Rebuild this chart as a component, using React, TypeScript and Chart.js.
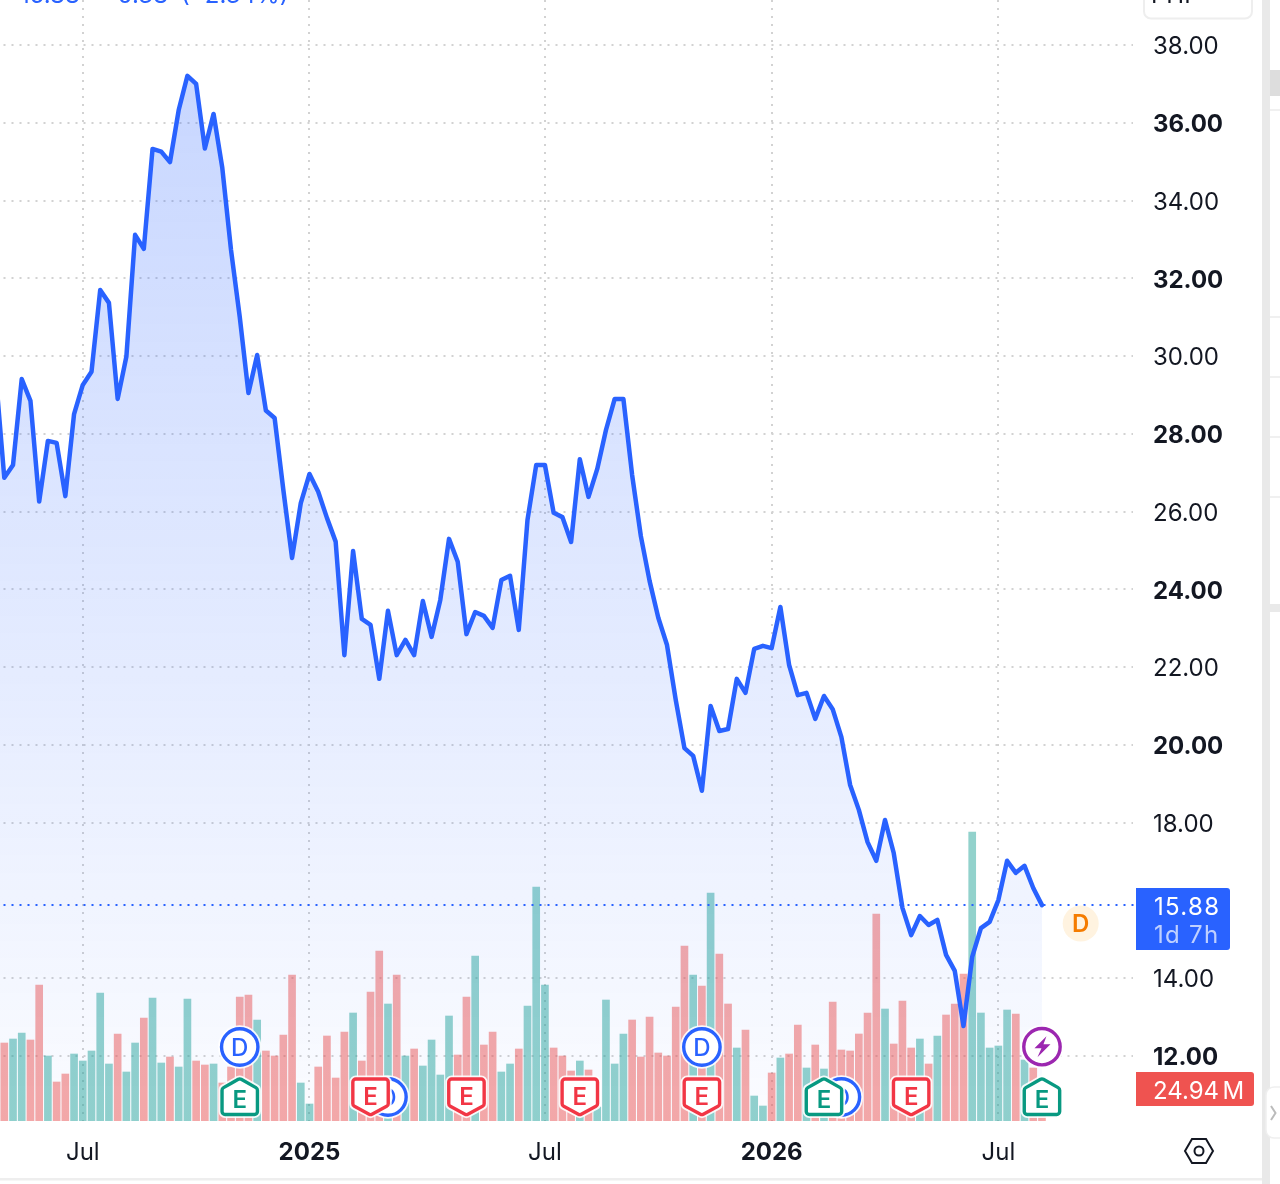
import React, { useEffect, useRef } from "react";
import { Chart, registerables } from "chart.js";

Chart.register(...registerables);

// Weekly closes; the first value lies just left of the visible window (index -1).
const prices = [
  29.57, 26.87, 27.2, 29.41, 28.85, 26.26, 27.82, 27.77, 26.4, 28.51, 29.26, 29.6, 31.7, 31.37, 28.9, 29.99,
  33.12, 32.76, 35.33, 35.26, 34.99, 36.33, 37.21, 37.0, 35.34, 36.23, 34.84, 32.73, 31.01, 29.05, 30.03, 28.6,
  28.41, 26.56, 24.81, 26.22, 26.97, 26.51, 25.84, 25.23, 22.31, 24.99, 23.24, 23.09, 21.7, 23.45, 22.31, 22.7,
  22.31, 23.7, 22.78, 23.73, 25.3, 24.71, 22.85, 23.42, 23.32, 23.01, 24.24, 24.35, 22.96, 25.79, 27.2, 27.2,
  25.97, 25.86, 25.22, 27.35, 26.38, 27.1, 28.1, 28.9, 28.9, 26.94, 25.37, 24.22, 23.27, 22.57, 21.16, 19.92,
  19.72, 18.82, 21.0, 20.36, 20.41, 21.7, 21.34, 22.47, 22.55, 22.49, 23.55, 22.06, 21.28, 21.34, 20.67, 21.26,
  20.92, 20.2, 18.97, 18.33, 17.5, 17.02, 18.07, 17.22, 15.81, 15.11, 15.6, 15.37, 15.5, 14.6, 14.19, 12.77,
  14.55, 15.29, 15.45, 16.01, 17.02, 16.71, 16.89, 16.32, 15.88,
];

// Volumes in millions, from index 0.
const volumes = [
  78, 82, 88, 81, 136, 65, 39, 47, 67, 60, 70, 128, 57, 87, 49, 78, 103, 123, 58, 64, 54, 122, 60, 56, 57, 38, 54,
  124, 126, 101, 70, 65, 86, 146, 38, 17, 54, 85, 43, 89, 108, 60, 129, 170, 117, 146, 65, 72, 55, 81, 46, 105, 66,
  124, 165, 76, 89, 49, 57, 72, 115, 234, 136, 73, 65, 50, 60, 51, 14, 121, 57, 87, 101, 64, 104, 68, 65, 114, 175,
  146, 135, 228, 167, 117, 73, 91, 25, 15, 48, 63, 67, 96, 53, 76, 52, 119, 71, 70, 87, 108, 207, 112, 77, 120, 73,
  82, 57, 85, 106, 117, 147, 289, 108, 73, 75, 111, 107, 61, 53, 25,
];

// 1 = green (up week), 0 = red (down week)
const volumeUp = [
  0, 1, 1, 0, 0, 1, 0, 0, 1, 1, 1, 1, 1, 0, 1, 1, 0, 1, 1, 0, 1, 1, 0, 0, 1, 0, 0, 0, 0, 1, 0, 0, 0, 0, 1, 1, 0, 0, 0,
  0, 1, 0, 0, 0, 1, 0, 1, 0, 1, 1, 1, 1, 0, 0, 1, 0, 0, 1, 1, 0, 1, 1, 1, 0, 0, 0, 1, 0, 1, 1, 1, 1, 0, 0, 0, 0, 0, 0,
  0, 1, 0, 1, 0, 0, 1, 0, 1, 1, 0, 1, 0, 0, 1, 0, 1, 0, 0, 0, 0, 0, 0, 1, 0, 0, 0, 1, 0, 1, 0, 0, 0, 1, 1, 1, 1, 1, 0,
  1, 0, 0,
];

const priceTicks = [12, 14, 16, 18, 20, 22, 24, 26, 28, 30, 32, 34, 36, 38];
const boldPriceTicks = [12, 20, 24, 28, 32, 36];
const hiddenPriceTicks = [16];
const timeTickIndex = [9, 35, 62, 88, 114];
const timeTickLabels = ["Jul", "2025", "Jul", "2026", "Jul"];
const boldTimeLabels = ["2025", "2026"];

const lastPrice = 15.88;
const countdown = "1d 7h";
const lastVolumeValue = "24.94";
const lastVolumeUnit = "M";
const earningsBeat = [27, 94, 119]; // green E markers
const earningsMiss = [42, 53, 66, 80, 104]; // red E markers
const dividendStacked = [27, 80]; // D above an E
const dividendLow = [44, 96]; // D partly behind an E
const splitIndex = 119; // lightning marker
const headerPrice = "15.88";
const headerChange = "\u22120.38";
const headerPercent = "(\u22122.34%)";

const BLUE = "#2962FF";
const RED = "#F23645";
const GREEN = "#089981";
const INK = "#131722";
const FONT = "Inter, sans-serif";

function roundPath(c: CanvasRenderingContext2D, pts: number[][], r: number) {
  c.beginPath();
  const n = pts.length;
  const a = pts[n - 1], b = pts[0];
  c.moveTo((a[0] + b[0]) / 2, (a[1] + b[1]) / 2);
  for (let i = 0; i < n; i++) {
    const p = pts[i], q = pts[(i + 1) % n];
    c.arcTo(p[0], p[1], (p[0] + q[0]) / 2, (p[1] + q[1]) / 2, r);
  }
  c.closePath();
}

function ring(c: CanvasRenderingContext2D, x: number, y: number, color: string) {
  c.beginPath();
  c.arc(x, y, 18.2, 0, Math.PI * 2);
  c.fillStyle = "#fff";
  c.fill();
  c.lineWidth = 7;
  c.strokeStyle = "rgba(255,255,255,0.9)";
  c.stroke();
  c.lineWidth = 3.4;
  c.strokeStyle = color;
  c.stroke();
}

function letter(c: CanvasRenderingContext2D, t: string, x: number, base: number, color: string, font: string) {
  c.fillStyle = color;
  c.font = font;
  c.textAlign = "center";
  c.textBaseline = "alphabetic";
  c.fillText(t, x, base);
}

function earnings(c: CanvasRenderingContext2D, x: number, up: boolean) {
  const color = up ? GREEN : RED;
  const pts = up
    ? [[x, 1078.5], [x + 17.7, 1088.5], [x + 17.7, 1114.5], [x - 17.7, 1114.5], [x - 17.7, 1088.5]]
    : [[x - 17.7, 1079], [x + 17.7, 1079], [x + 17.7, 1105.5], [x, 1115], [x - 17.7, 1105.5]];
  roundPath(c, pts, 3);
  c.fillStyle = "#fff";
  c.fill();
  c.lineJoin = "round";
  c.lineWidth = 7;
  c.strokeStyle = "rgba(255,255,255,0.9)";
  c.stroke();
  c.lineWidth = 3.4;
  c.strokeStyle = color;
  c.stroke();
  letter(c, "E", x, up ? 1108 : 1105, color, `600 24px ${FONT}`);
}

function dividend(c: CanvasRenderingContext2D, x: number, y: number) {
  ring(c, x, y, BLUE);
  letter(c, "D", x, y + 8.5, BLUE, `500 24px ${FONT}`);
}

const overlays = {
  id: "overlays",
  afterDatasetsDraw(chart: any) {
    const c: any = chart.ctx;
    const xs = chart.scales.x;
    const ys = chart.scales.y;
    c.save();

    // last price line
    const py = Math.round(ys.getPixelForValue(lastPrice));
    c.setLineDash([2, 6]);
    c.lineDashOffset = -3.5;
    c.lineWidth = 2;
    c.strokeStyle = BLUE;
    c.beginPath();
    c.moveTo(0, py);
    c.lineTo(1136, py);
    c.stroke();
    c.setLineDash([]);
    c.lineDashOffset = 0;

    // event markers
    dividendLow.forEach((i) => dividend(c, xs.getPixelForValue(i), 1097));
    dividendStacked.forEach((i) => dividend(c, xs.getPixelForValue(i), 1047));
    earningsBeat.forEach((i) => earnings(c, xs.getPixelForValue(i), true));
    earningsMiss.forEach((i) => earnings(c, xs.getPixelForValue(i), false));

    // lightning marker
    const sx = xs.getPixelForValue(splitIndex);
    const sy = 1046.7;
    ring(c, sx, sy, "#9C27B0");
    c.fillStyle = "#9C27B0";
    c.beginPath();
    c.moveTo(sx + 4.5, sy - 10.5);
    c.lineTo(sx - 7.5, sy + 1.5);
    c.lineTo(sx - 0.5, sy + 1.5);
    c.lineTo(sx - 4.5, sy + 10.5);
    c.lineTo(sx + 8.5, sy - 2.5);
    c.lineTo(sx + 1.5, sy - 2.5);
    c.closePath();
    c.fill();

    // upcoming dividend bubble
    c.beginPath();
    c.arc(1080.7, 923.5, 18, 0, Math.PI * 2);
    c.fillStyle = "#FFF3E0";
    c.fill();
    letter(c, "D", 1080.7, 932, "#F57C00", `600 24px ${FONT}`);

    // price tag
    c.fillStyle = BLUE;
    c.beginPath();
    c.roundRect(1136, 888, 94, 62, [0, 3, 3, 0]);
    c.fill();
    c.textAlign = "left";
    c.textBaseline = "middle";
    c.font = `400 24px ${FONT}`;
    c.letterSpacing = "1.3px";
    c.fillStyle = "#fff";
    c.fillText(lastPrice.toFixed(2), 1154, 907.5);
    c.fillStyle = "rgba(255,255,255,0.7)";
    c.fillText(countdown, 1154, 936);
    c.letterSpacing = "0px";

    // volume tag
    c.fillStyle = "#EF5350";
    c.beginPath();
    c.roundRect(1136, 1072, 118, 34, [0, 3, 3, 0]);
    c.fill();
    c.fillStyle = "#fff";
    c.fillText(lastVolumeValue, 1153, 1092);
    c.fillText(lastVolumeUnit, 1222.5, 1092);

    // settings hexagon
    const hx = 1199, hy = 1151;
    c.strokeStyle = INK;
    c.lineWidth = 2;
    c.lineJoin = "miter";
    c.beginPath();
    c.moveTo(hx - 14, hy);
    c.lineTo(hx - 7, hy - 12);
    c.lineTo(hx + 7, hy - 12);
    c.lineTo(hx + 14, hy);
    c.lineTo(hx + 7, hy + 12);
    c.lineTo(hx - 7, hy + 12);
    c.closePath();
    c.stroke();
    c.beginPath();
    c.arc(hx, hy, 4.5, 0, Math.PI * 2);
    c.stroke();

    // page chrome around the chart
    c.fillStyle = "#EEEEEE";
    c.fillRect(0, 1178, 1262, 2.5);
    c.fillStyle = "#E9E9E9";
    c.fillRect(1262, 0, 8, 1184);
    c.fillStyle = "#DDDDDD";
    c.fillRect(1270, 70, 10, 26);
    c.fillStyle = "#F0F0F0";
    [110, 317, 377, 437, 497].forEach((y) => c.fillRect(1270, y - 1, 10, 2));
    c.fillStyle = "#E9E9E9";
    c.fillRect(1270, 604, 10, 8);
    c.fillStyle = "#fff";
    c.strokeStyle = "#EFEFEF";
    c.lineWidth = 1.5;
    c.beginPath();
    c.roundRect(1266, 1087, 24, 51, 8);
    c.fill();
    c.stroke();
    c.strokeStyle = "#BBBBBB";
    c.lineWidth = 2;
    c.beginPath();
    c.moveTo(1271, 1106);
    c.lineTo(1275.5, 1113);
    c.lineTo(1271, 1120);
    c.stroke();

    // interval button, cut by the top of the crop
    c.fillStyle = "#fff";
    c.strokeStyle = "#EEEEEE";
    c.lineWidth = 2;
    c.beginPath();
    c.roundRect(1144, -20, 108, 38.5, 7);
    c.fill();
    c.stroke();
    c.fillStyle = INK;
    c.font = `400 24px ${FONT}`;
    c.textBaseline = "alphabetic";
    c.textAlign = "left";
    c.fillText("PHP", 1151, 3);

    // price header, cut by the top of the crop
    c.fillStyle = BLUE;
    c.fillText(headerPrice, 20, 3);
    c.textAlign = "right";
    c.fillText(headerChange, 168, 3);
    c.textAlign = "left";
    c.fillText(headerPercent, 181, 3);

    c.restore();
  },
};

export default function App() {
  const ref = useRef<HTMLCanvasElement | null>(null);

  useEffect(() => {
    if (!ref.current) return;
    const chart = new Chart(ref.current, {
      type: "line",
      data: {
        datasets: [
          {
            type: "line",
            order: 1,
            xAxisID: "x",
            yAxisID: "y",
            data: prices.map((v, i) => ({ x: i - 1, y: v })),
            borderColor: BLUE,
            borderWidth: 4.5,
            borderJoinStyle: "round",
            borderCapStyle: "round",
            pointRadius: 0,
            tension: 0,
            fill: "start",
            backgroundColor: (ctx: any) => {
              const g = ctx.chart.ctx.createLinearGradient(0, 76, 0, 1121);
              g.addColorStop(0, "rgba(41,98,255,0.26)");
              g.addColorStop(1, "rgba(41,98,255,0.02)");
              return g;
            },
          },
          {
            type: "bar",
            order: 2,
            xAxisID: "x",
            yAxisID: "vol",
            data: volumes.map((v, i) => ({ x: i, y: v })),
            barThickness: 7,
            borderWidth: 0,
            backgroundColor: volumeUp.map((u) => (u ? "rgba(38,166,154,0.5)" : "rgba(239,83,80,0.5)")),
          },
        ],
      } as any,
      options: {
        animation: false,
        responsive: false,
        devicePixelRatio: 1,
        layout: { padding: 0 },
        plugins: { legend: { display: false }, tooltip: { enabled: false } },
        scales: {
          x: {
            type: "linear",
            position: "bottom",
            offset: false,
            min: -0.493,
            max: 129.44,
            afterBuildTicks: (axis: any) => {
              axis.ticks = timeTickIndex.map((value) => ({ value }));
            },
            afterFit: (axis: any) => {
              axis.height = 63;
              axis.paddingLeft = 0;
              axis.paddingRight = 0;
            },
            grid: { color: "#D2D2D2", lineWidth: 2, drawTicks: false, offset: false },
            border: { display: false, dash: [2, 6], dashOffset: 0 },
            ticks: {
              autoSkip: false,
              maxRotation: 0,
              padding: 17.5,
              color: INK,
              callback: (value: any) => timeTickLabels[timeTickIndex.indexOf(Number(value))],
              font: (ctx: any) => {
                const label = timeTickLabels[timeTickIndex.indexOf(ctx.tick?.value)];
                return boldTimeLabels.includes(label)
                  ? { family: FONT, size: 24, weight: "700" }
                  : { family: FONT, size: 24, weight: "400" };
              },
            },
          },
          y: {
            type: "linear",
            position: "right",
            min: 10.328,
            max: 39.16,
            afterBuildTicks: (axis: any) => {
              axis.ticks = priceTicks.map((value) => ({ value }));
            },
            afterFit: (axis: any) => {
              axis.width = 147;
              axis.paddingTop = 0;
              axis.paddingBottom = 0;
            },
            grid: { color: "#D2D2D2", lineWidth: 2, drawTicks: false },
            border: { display: false, dash: [2, 6], dashOffset: -3.5 },
            ticks: {
              autoSkip: false,
              padding: 20,
              labelOffset: 2,
              color: INK,
              crossAlign: "near",
              callback: (value: any) => (hiddenPriceTicks.includes(Number(value)) ? null : Number(value).toFixed(2)),
              font: (ctx: any) =>
                boldPriceTicks.includes(ctx.tick?.value)
                  ? { family: FONT, size: 24, weight: "700" }
                  : { family: FONT, size: 24, weight: "400" },
            },
          },
          vol: { type: "linear", display: false, min: 0, max: 1121, grid: { display: false } },
        },
      } as any,
      plugins: [overlays],
    });
    return () => chart.destroy();
  }, []);

  return (
    <div style={{ position: "absolute", left: 0, top: 0, width: 1280, height: 1184 }}>
      <canvas ref={ref} width={1280} height={1184} style={{ display: "block", width: 1280, height: 1184 }} />
    </div>
  );
}
